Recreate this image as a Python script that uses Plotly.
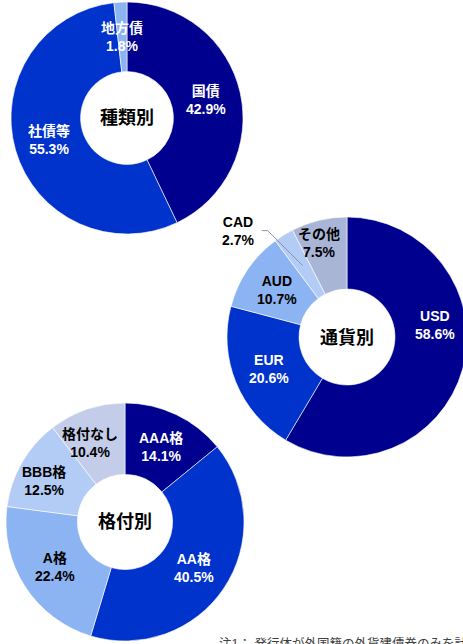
import math
import plotly.graph_objects as go

# ---------------- data ----------------
type_labels = ["国債", "社債等", "地方債"]
type_values = [42.9, 55.3, 1.8]

currency_labels = ["USD", "EUR", "AUD", "CAD", "その他"]
currency_values = [58.6, 20.6, 10.7, 2.7, 7.5]

rating_labels = ["AAA格", "AA格", "A格", "BBB格", "格付なし"]
rating_values = [14.1, 40.5, 22.4, 12.5, 10.4]

center_titles = ["種類別", "通貨別", "格付別"]
note_text = "注1： 発行体が外国籍の外貨建債券のみを計上しています。"

# ---------------- style ----------------
W, H = 468, 644          # figure slightly wider than the 463px window: right donut is clipped
HOLE = 0.40
FONT = "Liberation Sans, Arial, Noto Sans CJK JP, sans-serif"
NAVY, BLUE, LIGHT, LIGHTER, GREY1, GREY2 = "#00008F", "#0033CC", "#8CB3F2", "#B3CCF5", "#A9B5D6", "#C3CCE8"

type_colors = [NAVY, BLUE, LIGHT]
type_text = ["white", "white", "white"]
currency_colors = [NAVY, BLUE, LIGHT, LIGHTER, GREY1]
currency_text = ["white", "white", "black", "black", "black"]
rating_colors = [NAVY, BLUE, LIGHT, LIGHTER, GREY2]
rating_text = ["white", "white", "black", "black", "black"]

# pie domains in pixels: (x0, x1, y0_top, y1_top)
domains_px = [(11, 243, 2, 234), (227, 467, 217, 457), (6, 244, 403, 641)]

# labels drawn outside with a leader line: {chart index: {slice index: (dx, dy)}}
outside = {1: {3: (-65, -35)}}
# small label nudges in pixels: {chart index: {slice index: (dx, dy)}}
nudges = {1: {0: (7, -34), 4: (-8, -12)}, 2: {3: (-9, 1), 4: (-8, 0)}}

charts = [
    (type_labels, type_values, type_colors, type_text),
    (currency_labels, currency_values, currency_colors, currency_text),
    (rating_labels, rating_values, rating_colors, rating_text),
]

fig = go.Figure()
annotations = []
shapes = []


def to_paper(px, py):
    return px / W, 1 - py / H


def label(px, py, text, color, size=14):
    ax, ay = to_paper(px, py)
    return dict(x=ax, y=ay, xref="paper", yref="paper", xanchor="center", yanchor="middle",
                text=text, showarrow=False, font=dict(size=size, color=color, family=FONT))


for ci, (labels, values, colors, tcolors) in enumerate(charts):
    x0, x1, y0, y1 = domains_px[ci]
    fig.add_trace(go.Pie(
        labels=labels, values=values, sort=False, direction="clockwise",
        rotation=0, hole=HOLE, textinfo="none", hoverinfo="skip",
        marker=dict(colors=colors, line=dict(color="white", width=0.6)),
        domain=dict(x=[x0 / W, x1 / W], y=[1 - y1 / H, 1 - y0 / H]),
        showlegend=False,
    ))
    cx, cy = (x0 + x1) / 2, (y0 + y1) / 2
    r = min(x1 - x0, y1 - y0) / 2
    rm = r * (1 + HOLE) / 2
    total = sum(values)
    cum = 0.0
    for si, (lab, val) in enumerate(zip(labels, values)):
        mid = (cum + val / 2) / total
        cum += val
        th = 2 * math.pi * mid
        px, py = cx + rm * math.sin(th), cy - rm * math.cos(th)
        text = f"<b>{lab}<br>{val:.1f}%</b>"
        if ci in outside and si in outside[ci]:
            dx, dy = outside[ci][si]
            tx, ty = px + dx, py + dy
            ex = tx + 24
            shapes.append(dict(
                type="path", xref="paper", yref="paper",
                path=(f"M {ex / W} {1 - ty / H} L {(ex + 6) / W} {1 - ty / H} "
                      f"L {px / W} {1 - py / H}"),
                line=dict(color="#8A96A8", width=1),
            ))
            annotations.append(label(tx, ty, text, tcolors[si]))
        else:
            ndx, ndy = nudges.get(ci, {}).get(si, (0, 0))
            annotations.append(label(px + ndx, py + ndy, text, tcolors[si]))
    annotations.append(label(cx, cy, f"<b>{center_titles[ci]}</b>", "black", 18))

nx, ny = to_paper(217, 634)
annotations.append(dict(x=nx, y=ny, xref="paper", yref="paper", xanchor="left", yanchor="top",
                        text=note_text, showarrow=False,
                        font=dict(size=12.5, color="#404040", family=FONT)))

fig.update_layout(
    width=W, height=H, margin=dict(l=0, r=0, t=0, b=0),
    paper_bgcolor="white", plot_bgcolor="white",
    annotations=annotations, shapes=shapes,
)

fig.write_html(
    "out.html",
    config={"displayModeBar": False},
    post_script="document.body.style.margin='0';document.body.style.overflow='hidden';",
)
